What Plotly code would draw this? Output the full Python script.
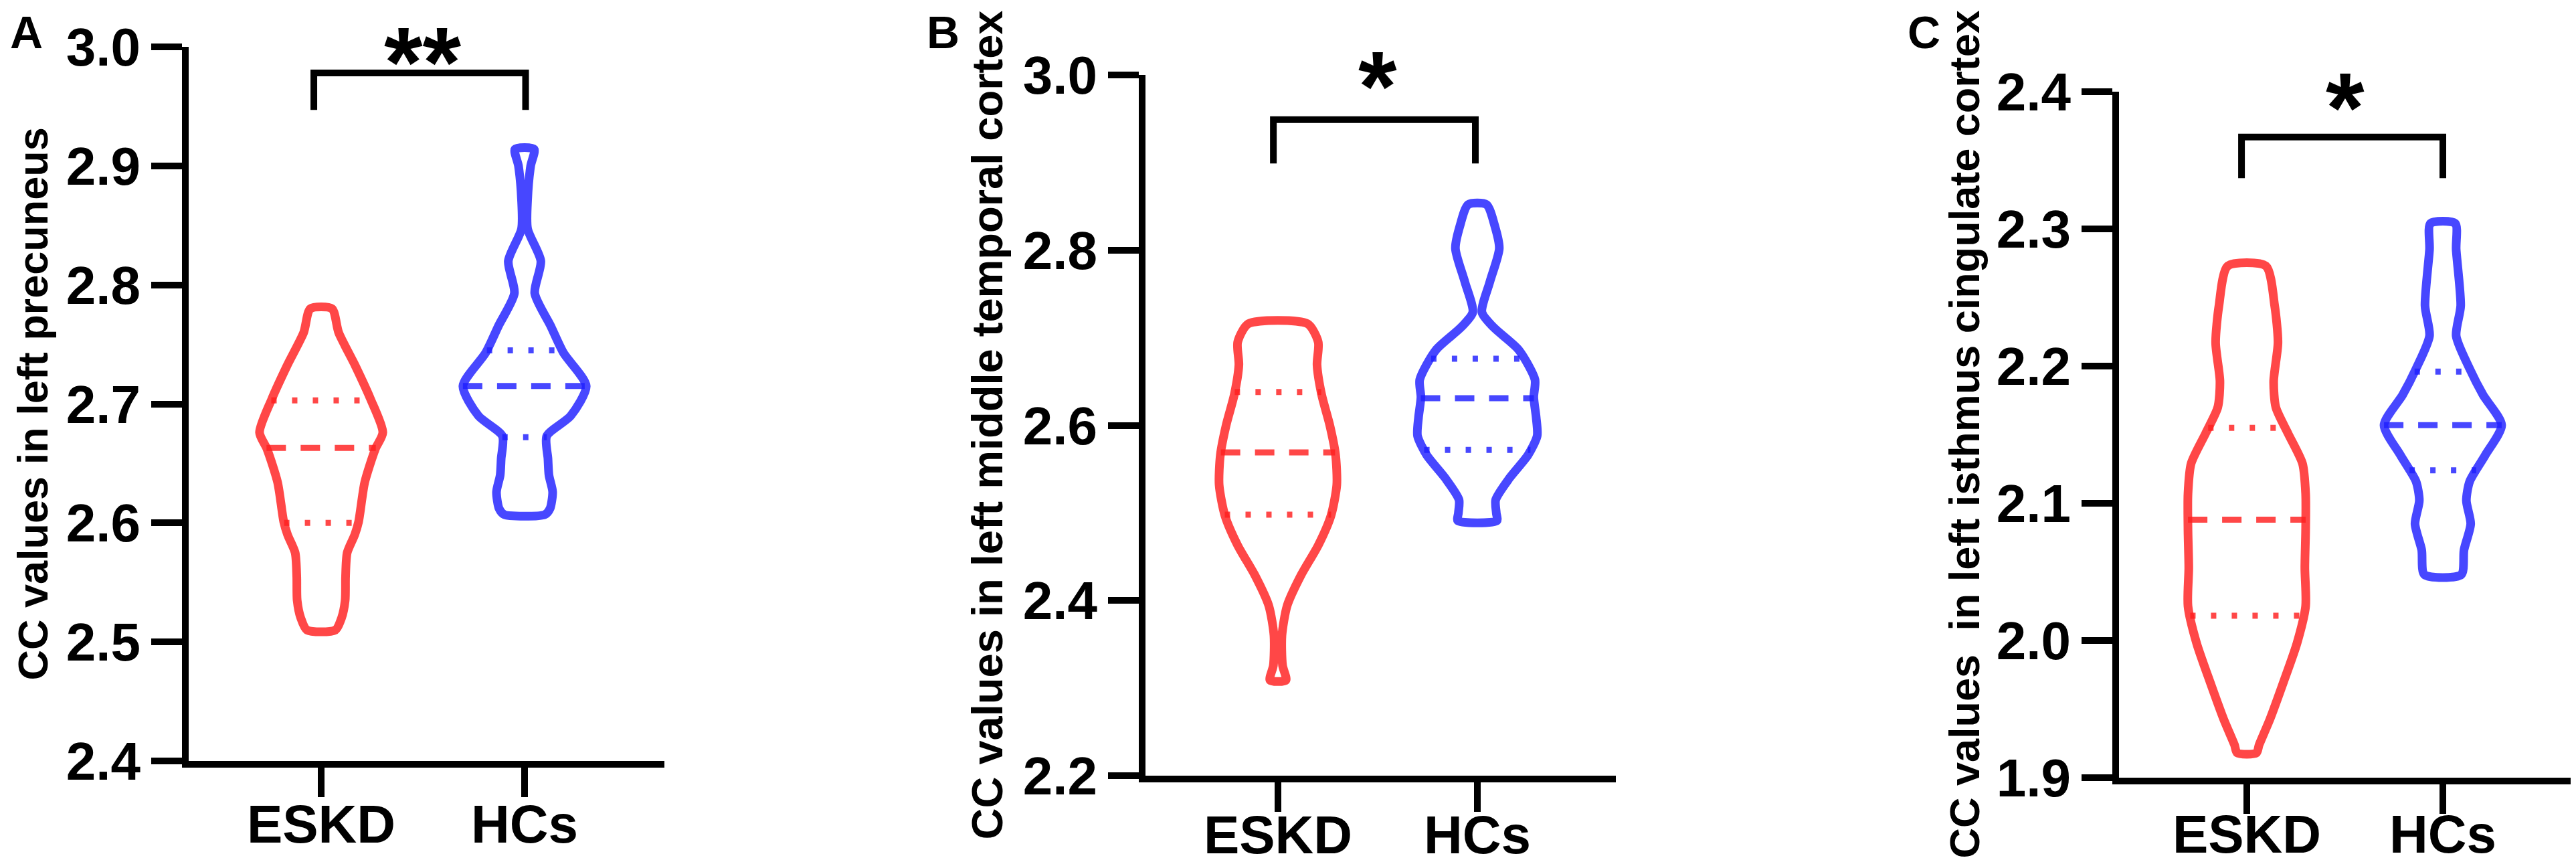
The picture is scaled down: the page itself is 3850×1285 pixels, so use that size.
import numpy as np
import plotly.graph_objects as go

W, H = 3850, 1285

groups = ["ESKD", "HCs"]

# ---- panel A: left precuneus -------------------------------------------
a_title = "CC values in left precuneus"
a_eskd_y = [2.510, 2.520, 2.535, 2.555, 2.575, 2.590, 2.601, 2.634, 2.662, 2.676, 2.704, 2.732, 2.760, 2.780]
a_eskd_hw = [0.070, 0.100, 0.118, 0.120, 0.128, 0.165, 0.184, 0.214, 0.266, 0.303, 0.243, 0.168, 0.086, 0.053]
a_hcs_y = [2.607, 2.612, 2.626, 2.640, 2.654, 2.673, 2.690, 2.715, 2.743, 2.766, 2.793, 2.820, 2.847, 2.872, 2.900, 2.914]
a_hcs_hw = [0.100, 0.125, 0.138, 0.120, 0.115, 0.109, 0.227, 0.303, 0.191, 0.127, 0.050, 0.080, 0.015, 0.015, 0.030, 0.047]
a_eskd_quart = [2.600, 2.663, 2.703]
a_hcs_quart = [2.672, 2.715, 2.745]
a_sig = "**"

# ---- panel B: left middle temporal cortex ------------------------------
b_title = "CC values in left middle temporal cortex"
b_eskd_y = [2.309, 2.326, 2.360, 2.394, 2.429, 2.463, 2.497, 2.532, 2.566, 2.600, 2.635, 2.669, 2.695, 2.716]
b_eskd_hw = [0.040, 0.023, 0.020, 0.046, 0.116, 0.202, 0.266, 0.295, 0.289, 0.260, 0.219, 0.196, 0.202, 0.148]
b_hcs_y = [2.491, 2.500, 2.515, 2.540, 2.566, 2.588, 2.609, 2.632, 2.652, 2.686, 2.712, 2.729, 2.764, 2.802, 2.828, 2.852]
b_hcs_hw = [0.098, 0.095, 0.092, 0.162, 0.254, 0.300, 0.295, 0.283, 0.289, 0.208, 0.081, 0.023, 0.063, 0.110, 0.087, 0.046]
b_eskd_quart = [2.498, 2.569, 2.638]
b_hcs_quart = [2.572, 2.631, 2.676]
b_sig = "*"

# ---- panel C: left isthmus cingulate cortex ----------------------------
c_title = "CC values \u00a0in left isthmus cingulate cortex"
c_eskd_y = [1.918, 1.924, 1.943, 1.970, 1.998, 2.025, 2.053, 2.080, 2.107, 2.129, 2.151, 2.170, 2.189, 2.217, 2.244, 2.273]
c_eskd_hw = [0.049, 0.063, 0.119, 0.188, 0.256, 0.300, 0.296, 0.300, 0.300, 0.284, 0.210, 0.148, 0.137, 0.159, 0.142, 0.097]
c_hcs_y = [2.048, 2.066, 2.085, 2.102, 2.116, 2.135, 2.157, 2.179, 2.198, 2.222, 2.244, 2.285, 2.304]
c_hcs_hw = [0.094, 0.108, 0.142, 0.120, 0.137, 0.216, 0.300, 0.205, 0.137, 0.068, 0.091, 0.068, 0.063]
c_eskd_quart = [2.018, 2.088, 2.155]
c_hcs_quart = [2.124, 2.157, 2.196]
c_sig = "*"

RED = "rgba(255,30,30,0.82)"
BLUE = "rgba(30,30,255,0.82)"
FONT = "Liberation Sans, Arial, sans-serif"

# panel geometry in pixels (style only)
panels = [
    dict(letter="A", title=a_title, sig=a_sig,
         eskd=(a_eskd_y, a_eskd_hw, a_eskd_quart), hcs=(a_hcs_y, a_hcs_hw, a_hcs_quart),
         yr=(2.4, 3.0), dtick=0.1, px_x=(274, 985), px_y=(62, 1129), cat_px=(472, 776),
         bracket=(-0.036, 1.005, 2.947, 2.978), star_top=0,
         title_x=40, title_size=63, letter_x=31, label_shift=-28),
    dict(letter="B", title=b_title, sig=b_sig,
         eskd=(b_eskd_y, b_eskd_hw, b_eskd_quart), hcs=(b_hcs_y, b_hcs_hw, b_hcs_quart),
         yr=(2.2, 3.0), dtick=0.2, px_x=(1704, 2407), px_y=(104, 1151), cat_px=(1902, 2200),
         bracket=(-0.023, 0.99, 2.899, 2.949), star_top=36,
         title_x=1467, title_size=65, letter_x=1401, label_shift=-34),
    dict(letter="C", title=c_title, sig=c_sig,
         eskd=(c_eskd_y, c_eskd_hw, c_eskd_quart), hcs=(c_hcs_y, c_hcs_hw, c_hcs_quart),
         yr=(1.9, 2.4), dtick=0.1, px_x=(3159, 3843), px_y=(129, 1154), cat_px=(3350, 3643),
         bracket=(-0.027, 1.0, 2.337, 2.367), star_top=68,
         title_x=2927, title_size=63, letter_x=2867, label_shift=-38),
]


def violin_outline(center, y, hw, color, xa, ya):
    y = np.asarray(y, float)
    hw = np.asarray(hw, float)
    xs = np.concatenate([center - hw, (center + hw)[::-1], [center - hw[0]]])
    ys = np.concatenate([y, y[::-1], [y[0]]])
    return go.Scatter(x=xs, y=ys, mode="lines", xaxis=xa, yaxis=ya,
                      line=dict(color=color, width=13, shape="spline", smoothing=0.7),
                      hoverinfo="skip", showlegend=False)


def stat_line(center, level, y, hw, color, dash, xa, ya):
    half = float(np.interp(level, y, hw))
    return go.Scatter(x=[center - half, center + half], y=[level, level], mode="lines",
                      xaxis=xa, yaxis=ya, line=dict(color=color, width=9, dash=dash),
                      hoverinfo="skip", showlegend=False)


fig = go.Figure()
layout = {}
annotations = []
shapes = []

for i, p in enumerate(panels):
    n = "" if i == 0 else str(i + 1)
    xa, ya = "x" + n, "y" + n
    c0, c1 = p["cat_px"]
    unit = c1 - c0
    xr = [(p["px_x"][0] - c0) / unit, 1 + (p["px_x"][1] - c1) / unit]

    for center, (vy, vhw, quart), color in [(0, p["eskd"], RED), (1, p["hcs"], BLUE)]:
        fig.add_trace(violin_outline(center, vy, vhw, color, xa, ya))
        for k, lvl in enumerate(quart):
            dash = "29px,22px" if k == 1 else "8px,23px"
            fig.add_trace(stat_line(center, lvl, vy, vhw, color, dash, xa, ya))

    layout["xaxis" + n] = dict(
        domain=[p["px_x"][0] / W, p["px_x"][1] / W], range=xr, anchor=ya,
        tickvals=[0, 1], ticktext=groups, ticks="outside", ticklen=44, tickwidth=10,
        tickcolor="black", showline=True, linewidth=10, linecolor="black",
        showgrid=False, zeroline=False, fixedrange=True, automargin=False,
        ticklabelstandoff=p["label_shift"],
        tickfont=dict(family=FONT, size=80, color="black", weight="bold"),
    )
    layout["yaxis" + n] = dict(
        domain=[1 - p["px_y"][1] / H, 1 - p["px_y"][0] / H], range=list(p["yr"]), anchor=xa,
        dtick=p["dtick"], tick0=p["yr"][0], tickformat=".1f", ticks="outside", ticklen=46,
        tickwidth=10, tickcolor="black", showline=True, linewidth=10, linecolor="black",
        showgrid=False, zeroline=False, fixedrange=True, automargin=False,
        tickfont=dict(family=FONT, size=80, color="black", weight="bold"),
    )

    bx0, bx1, by0, by1 = p["bracket"]
    shapes.append(dict(type="path", xref=xa, yref=ya,
                       path=f"M {bx0},{by0} L {bx0},{by1} L {bx1},{by1} L {bx1},{by0}",
                       line=dict(color="black", width=10)))
    annotations.append(dict(x=(c0 + c1) / 2 / W, y=1 - p["star_top"] / H,
                            xref="paper", yref="paper", text=p["sig"], showarrow=False,
                            xanchor="center", yanchor="top",
                            font=dict(family=FONT, size=148, color="black", weight="bold")))
    annotations.append(dict(x=p["title_x"] / W, y=1 - (p["px_y"][0] + p["px_y"][1]) / 2 / H,
                            xref="paper", yref="paper", text=p["title"], textangle=-90,
                            showarrow=False, xanchor="center", yanchor="middle",
                            font=dict(family=FONT, size=p["title_size"], color="black",
                                      weight="bold")))
    annotations.append(dict(x=p["letter_x"] / W, y=1, xref="paper", yref="paper",
                            text=p["letter"], showarrow=False, xanchor="center", yanchor="top",
                            font=dict(family=FONT, size=68, color="black", weight="bold")))

fig.update_layout(
    width=W, height=H, margin=dict(l=0, r=0, t=0, b=0, autoexpand=False),
    paper_bgcolor="white", plot_bgcolor="white",
    showlegend=False, annotations=annotations, shapes=shapes, **layout,
)

fig.write_html("out.html")
